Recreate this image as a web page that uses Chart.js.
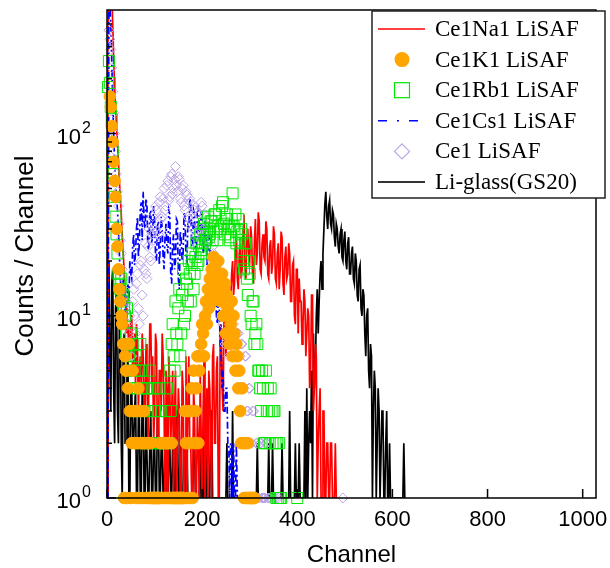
<!DOCTYPE html>
<html lang="en">
<head>
    <meta charset="UTF-8">
    <title>Counts / Channel</title>
    <style>
        html, body { margin: 0; padding: 0; background: #fff; }
        #wrap { width: 610px; height: 568px; }
    </style>
</head>
<body>
    <div id="wrap"><canvas id="spectrum" width="610" height="568"></canvas></div>

    <script src="https://cdn.jsdelivr.net/npm/chart.js"></script>
    <script>
        // one value every CH_STEP channels, starting at channel 0
        const CH_STEP = 2;

        const seriesNames = ["Ce1Na1 LiSAF", "Ce1K1 LiSAF", "Ce1Rb1 LiSAF", "Ce1Cs1 LiSAF", "Ce1 LiSAF", "Li-glass(GS20)"];

        const naCounts = [
            1, 300, 800, 900, 900, 600, 400, 260, 180, 140,
            110, 90, 70, 55, 45, 36, 28, 22, 18, 14,
            11, 8, 9, 6, 7, 10, 10, 5, 6, 8,
            4, 9, 7, 3, 5, 6, 4, 8, 6, 3,
            3, 7, 5, 2, 4, 9, 9, 4, 6, 2,
            3, 8, 7, 2, 2, 5, 5, 3, 8, 6,
            3, 1, 5, 4, 1, 6, 4, 2, 3, 5,
            1, 3, 5, 1, 2, 4, 3, 1, 1, 5,
            4, 1, 2, 6, 1, 3, 6, 2, 2, 1,
            1, 4, 3, 1, 1, 3, 2, 1, 5, 2,
            1, 3, 6, 1, 2, 4, 1, 5, 4, 2,
            1, 6, 7, 2, 2, 5, 6, 1, 1, 8,
            9, 4, 3, 10, 11, 6, 8, 13, 14, 9,
            12, 17, 20, 13, 15, 24, 28, 16, 14, 22,
            25, 16, 18, 30, 36, 19, 16, 27, 30, 21,
            20, 31, 27, 17, 15, 26, 34, 19, 22, 37,
            33, 18, 17, 25, 28, 21, 20, 33, 30, 17,
            16, 24, 26, 17, 19, 31, 28, 16, 15, 22,
            25, 14, 18, 29, 27, 15, 13, 21, 24, 16,
            17, 25, 22, 12, 12, 19, 20, 10, 9, 18,
            18, 8, 16, 12, 12, 7, 9, 14, 12, 6,
            8, 11, 10, 4, 5, 13, 13, 3, 4, 7,
            6, 1, 2, 3, 4, 1, 1, 3, 3, 1,
            1, 2, 2, 1, 1, 2, 2, 1, 1, 1,
            2, 1, 1
        ];

        const kCounts = [
            0, 0, 0, 160, 140, 110, 90, 70, 55, 45,
            30, 24, 18, 14, 12, 10, 9, 7, 1, 6,
            5, 1, 4, 7, 3, 1, 2, 5, 3, 2,
            3, 1, 2, 4, 1, 3, 2, 1, 2, 3,
            2, 1, 2, 1, 2, 1, 2, 1, 1, 1,
            1, 1, 1, 1, 1, 1, 2, 1, 2, 1,
            2, 1, 1, 2, 1, 2, 1, 1, 2, 1,
            1, 1, 1, 1, 1, 1, 1, 1, 1, 1,
            1, 1, 3, 2, 1, 3, 2, 1, 3, 4,
            1, 5, 2, 3, 4, 6, 2, 5, 6, 7,
            9, 8, 6, 10, 12, 9, 14, 11, 16, 13,
            18, 12, 21, 15, 19, 14, 17, 20, 13, 16,
            12, 17, 10, 14, 15, 8, 13, 11, 10, 7,
            9, 12, 6, 10, 8, 5, 7, 6, 4, 5,
            3, 2, 4, 2, 1, 2, 1, 1, 2, 1,
            1, 1, 1, 1, 1, 1
        ];

        const rbCounts = [
            0, 180, 250, 190, 140, 120, 80, 60, 45, 35,
            28, 22, 17, 15, 14, 16, 12, 13, 11, 10,
            8, 11, 7, 6, 5, 8, 4, 7, 3, 5,
            6, 3, 4, 5, 2, 7, 5, 4, 3, 2,
            1, 4, 4, 3, 2, 5, 3, 4, 1, 2,
            4, 3, 2, 1, 3, 4, 2, 3, 1, 2,
            2, 1, 3, 4, 1, 2, 5, 3, 7, 9,
            6, 5, 12, 8, 7, 11, 14, 6, 8, 13,
            18, 9, 10, 16, 15, 12, 20, 17, 12, 19,
            22, 14, 17, 21, 25, 19, 20, 24, 28, 22,
            23, 30, 32, 25, 26, 29, 35, 27, 28, 33,
            33, 26, 30, 36, 36, 29, 26, 31, 38, 30,
            30, 40, 42, 32, 28, 34, 36, 30, 31, 26,
            27, 34, 47, 31, 30, 36, 25, 29, 34, 26,
            22, 30, 28, 20, 18, 25, 25, 16, 13, 20,
            17, 10, 9, 12, 12, 7, 8, 9, 7, 5,
            5, 4, 3, 5, 4, 2, 2, 5, 3, 4,
            3, 2, 4, 3, 2, 3, 3, 2, 1, 2,
            1, 2, 1, 1, 0, 0, 0, 0, 0, 0,
            0, 0, 0, 0, 0, 0, 0, 0, 0, 0,
            1, 0
        ];

        const csCounts = [
            1, 1, 600, 500, 400, 250, 150, 100, 70, 55,
            45, 38, 30, 22, 16, 14, 12, 16, 14, 10,
            11, 13, 15, 12, 20, 17, 16, 24, 28, 19,
            22, 30, 35, 21, 25, 38, 42, 26, 48, 33,
            30, 44, 40, 23, 24, 36, 38, 25, 28, 40,
            34, 22, 20, 31, 33, 19, 24, 35, 30, 21,
            18, 27, 32, 24, 22, 38, 36, 17, 15, 25,
            28, 18, 20, 34, 33, 16, 14, 29, 26, 20,
            22, 37, 35, 21, 20, 31, 30, 44, 42, 24,
            25, 38, 36, 21, 22, 41, 40, 26, 28, 37,
            36, 22, 24, 33, 30, 19, 21, 28, 26, 17,
            18, 15, 14, 19, 16, 10, 9, 12, 11, 7,
            6, 4, 5, 3, 3, 4, 4, 2, 2, 1,
            2, 2, 1, 2, 1, 1, 2, 1, 1
        ];

        const ceCounts = [
            0, 0, 370, 330, 290, 230, 170, 130, 100, 80,
            60, 48, 40, 32, 26, 22, 18, 16, 14, 11,
            12, 9, 7, 8, 10, 6, 6, 12, 14, 10,
            8, 15, 17, 11, 9, 19, 20, 13, 10, 18,
            25, 17, 16, 24, 30, 21, 20, 28, 35, 26,
            30, 40, 38, 29, 28, 42, 45, 34, 35, 44,
            50, 38, 40, 52, 55, 43, 45, 58, 60, 47,
            50, 56, 66, 52, 48, 58, 56, 44, 42, 50,
            52, 40, 38, 48, 46, 35, 34, 44, 42, 31,
            30, 40, 38, 27, 28, 37, 36, 29, 30, 42,
            40, 30, 28, 36, 35, 25, 26, 31, 30, 21,
            20, 24, 22, 16, 15, 19, 18, 12, 12, 15,
            14, 10, 9, 8, 7, 11, 10, 7, 6, 9,
            8, 6, 7, 9, 8, 6, 5, 8, 8, 5,
            6, 7, 7, 4, 4, 6, 6, 3, 3, 4,
            4, 2, 2, 3, 3, 1, 1, 2, 2, 1,
            1, 2, 2, 1, 1, 1, 1, 2, 2, 1,
            1, 1, 1, 0, 0, 1, 1, 0, 1, 0,
            1, 0, 0, 0, 0, 0, 0, 0, 0, 0,
            0, 0, 0, 0, 0, 0, 0, 0, 0, 0,
            0, 0, 0, 0, 0, 0, 0, 0, 0, 0,
            0, 0, 0, 0, 0, 0, 0, 0, 0, 0,
            0, 0, 0, 0, 0, 0, 0, 0, 0, 0,
            0, 0, 0, 0, 0, 0, 0, 0, 0, 0,
            0, 0, 0, 0, 0, 0, 0, 0, 1
        ];

        const glassCounts = [
            1, 12, 20, 6, 3, 15, 18, 4, 2, 11,
            14, 3, 2, 9, 10, 2, 1, 6, 8, 2,
            2, 5, 6, 1, 1, 4, 4, 2, 2, 3,
            4, 1, 1, 3, 3, 1, 1, 4, 4, 1,
            1, 3, 3, 1, 1, 2, 3, 1, 1, 2,
            2, 1, 1, 3, 3, 1, 1, 2, 2, 1,
            1, 2, 3, 1, 1, 2, 2, 1, 1, 2,
            2, 1, 1, 3, 3, 1, 1, 2, 2, 1,
            1, 1, 1, 2, 2, 1, 1, 1, 1, 1,
            1, 2, 2, 1, 1, 1, 1, 1, 3, 1,
            1, 1, 3, 1, 1, 2, 1, 1, 1, 3,
            3, 1, 1, 1, 1, 1, 1, 1, 1, 1,
            1, 1, 1, 1, 1, 1, 2, 1, 1, 1,
            1, 1, 3, 1, 1, 1, 1, 1, 1, 1,
            1, 1, 1, 1, 1, 1, 1, 1, 1, 1,
            1, 1, 1, 1, 1, 1, 1, 1, 2, 1,
            1, 1, 1, 1, 1, 1, 1, 1, 1, 1,
            2, 1, 1, 1, 2, 1, 1, 1, 1, 1,
            1, 1, 1, 1, 2, 1, 1, 1, 1, 1,
            1, 1, 3, 1, 1, 1, 1, 1, 2, 1,
            1, 1, 2, 1, 1, 1, 1, 1, 3, 1,
            4, 1, 2, 3, 2, 5, 1, 8, 4, 5,
            10, 14, 8, 12, 17, 20, 14, 22, 30, 41,
            48, 35, 30, 40, 43, 32, 30, 38, 36, 27,
            24, 32, 30, 24, 22, 28, 30, 21, 20, 26,
            29, 20, 18, 25, 27, 17, 17, 22, 24, 16,
            15, 22, 20, 13, 12, 18, 19, 11, 10, 14,
            13, 8, 6, 10, 11, 5, 4, 7, 6, 1,
            3, 5, 4, 1, 2, 4, 3, 1, 1, 3,
            3, 1, 1, 2, 3, 1, 1, 2, 1, 1,
            1, 1, 1, 1, 1, 1, 1, 1, 1, 1,
            1, 1, 2, 1, 1
        ];

        const xTicks = [0, 200, 400, 600, 800, 1000];
        const yDecades = [1, 10, 100];

        function toPoints(counts) {
            return counts.map((c, i) => ({ x: i * CH_STEP, y: c > 0 ? c : null }));
        }

        const lineBase = { showLine: true, pointRadius: 0, tension: 0, spanGaps: false, borderWidth: 1.7 };
        const pointBase = { showLine: false, clip: false, pointHoverRadius: 0 };

        const datasets = [
            Object.assign({ label: seriesNames[0], data: toPoints(naCounts), borderColor: "#ff0000", order: 4 }, lineBase),
            Object.assign({ label: seriesNames[1], data: toPoints(kCounts), pointStyle: "circle", pointRadius: 5.8,
                pointBackgroundColor: "#ffa500", pointBorderColor: "#ffa500", pointBorderWidth: 1, order: 0 }, pointBase),
            Object.assign({ label: seriesNames[2], data: toPoints(rbCounts), pointStyle: "rect", pointRadius: 7.8,
                pointBackgroundColor: "rgba(0,0,0,0)", pointBorderColor: "#00e600", pointBorderWidth: 1, order: 1 }, pointBase),
            Object.assign({ label: seriesNames[3], data: toPoints(csCounts), borderColor: "#0000ff", borderDash: [7, 3, 2, 3], order: 3 }, lineBase),
            Object.assign({ label: seriesNames[4], data: toPoints(ceCounts), pointStyle: "rectRot", pointRadius: 5,
                pointBackgroundColor: "rgba(0,0,0,0)", pointBorderColor: "#bba4e6", pointBorderWidth: 1, order: 2 }, pointBase),
            Object.assign({ label: seriesNames[5], data: toPoints(glassCounts), borderColor: "#000000", order: 5 }, lineBase)
        ];

        // frame, inward ticks, labels and the boxed legend
        const framePlugin = {
            id: "frame",
            afterDraw(chart) {
                const ctx = chart.ctx;
                const a = chart.chartArea;
                const x = chart.scales.x;
                const y = chart.scales.y;
                ctx.save();

                ctx.strokeStyle = "#000";
                ctx.lineWidth = 1.5;
                ctx.strokeRect(a.left, a.top, a.right - a.left, a.bottom - a.top);

                ctx.beginPath();
                xTicks.forEach(v => {
                    const px = x.getPixelForValue(v);
                    ctx.moveTo(px, a.bottom);
                    ctx.lineTo(px, a.bottom - 9);
                });
                yDecades.forEach(d => {
                    for (let k = 1; k < 10; k++) {
                        const v = d * k;
                        if (v > y.max) break;
                        const py = y.getPixelForValue(v);
                        ctx.moveTo(a.left, py);
                        ctx.lineTo(a.left + (k === 1 ? 9 : 5), py);
                    }
                });
                ctx.stroke();

                ctx.fillStyle = "#000";
                ctx.font = "22px 'Liberation Sans', Arial, sans-serif";
                ctx.textAlign = "center";
                ctx.textBaseline = "alphabetic";
                xTicks.forEach(v => ctx.fillText(String(v), x.getPixelForValue(v), 526));

                yDecades.forEach(d => {
                    const py = y.getPixelForValue(d);
                    ctx.font = "22px 'Liberation Sans', Arial, sans-serif";
                    ctx.textAlign = "right";
                    ctx.fillText("10", 81, py + 10);
                    ctx.font = "16px 'Liberation Sans', Arial, sans-serif";
                    ctx.textAlign = "left";
                    ctx.fillText(String(Math.round(Math.log10(d))), 82, py - 1);
                });

                ctx.font = "24px 'Liberation Sans', Arial, sans-serif";
                ctx.textAlign = "center";
                ctx.fillText("Channel", (a.left + a.right) / 2, 562);

                ctx.save();
                ctx.translate(33, 256);
                ctx.rotate(-Math.PI / 2);
                ctx.font = "26px 'Liberation Sans', Arial, sans-serif";
                ctx.fillText("Counts / Channel", 0, 0);
                ctx.restore();

                drawLegend(ctx);
                ctx.restore();
            }
        };

        function drawLegend(ctx) {
            const box = { left: 372, top: 11, right: 605, bottom: 198 };
            ctx.fillStyle = "#fff";
            ctx.fillRect(box.left, box.top, box.right - box.left, box.bottom - box.top);
            ctx.strokeStyle = "#222";
            ctx.lineWidth = 1.5;
            ctx.strokeRect(box.left, box.top, box.right - box.left, box.bottom - box.top);

            const x0 = 378, x1 = 425, xc = 402;
            seriesNames.forEach((name, i) => {
                const ry = 29 + i * 30.6;
                ctx.save();
                if (i === 0 || i === 3 || i === 5) {
                    ctx.strokeStyle = i === 0 ? "#ff0000" : i === 3 ? "#0000ff" : "#333";
                    ctx.lineWidth = i === 5 ? 2 : 1.5;
                    if (i === 3) ctx.setLineDash([9, 10, 2, 10]);
                    ctx.beginPath();
                    ctx.moveTo(x0, ry);
                    ctx.lineTo(x1, ry);
                    ctx.stroke();
                } else if (i === 1) {
                    ctx.fillStyle = "#ffa500";
                    ctx.beginPath();
                    ctx.arc(xc, ry, 7.5, 0, Math.PI * 2);
                    ctx.fill();
                } else if (i === 2) {
                    ctx.strokeStyle = "#00e600";
                    ctx.lineWidth = 1.2;
                    ctx.strokeRect(xc - 7.5, ry - 7.5, 15, 15);
                } else {
                    ctx.strokeStyle = "#bba4e6";
                    ctx.lineWidth = 1.2;
                    ctx.beginPath();
                    ctx.moveTo(xc, ry - 7.5);
                    ctx.lineTo(xc + 7.5, ry);
                    ctx.lineTo(xc, ry + 7.5);
                    ctx.lineTo(xc - 7.5, ry);
                    ctx.closePath();
                    ctx.stroke();
                }
                ctx.restore();

                ctx.fillStyle = "#000";
                ctx.font = "23px 'Liberation Serif', 'Times New Roman', serif";
                ctx.textAlign = "left";
                ctx.textBaseline = "middle";
                ctx.fillText(name, 435, ry + 1);
            });
        }

        new Chart(document.getElementById("spectrum"), {
            type: "line",
            data: { datasets: datasets },
            options: {
                responsive: false,
                animation: false,
                events: [],
                layout: { padding: { left: 107, right: 14, top: 10, bottom: 70 } },
                scales: {
                    x: { type: "linear", min: 0, max: 1028, display: false },
                    y: { type: "logarithmic", min: 1, max: 477, display: false }
                },
                plugins: {
                    legend: { display: false },
                    tooltip: { enabled: false }
                }
            },
            plugins: [framePlugin]
        });
    </script>
</body>
</html>
